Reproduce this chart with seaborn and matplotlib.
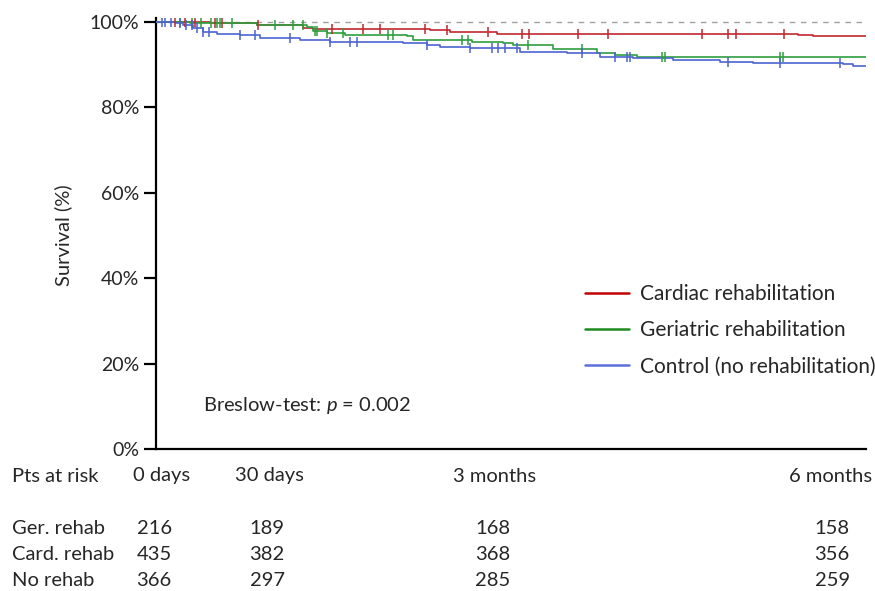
import numpy as np
import pandas as pd
import matplotlib
matplotlib.use("Agg")
import matplotlib.pyplot as plt
import matplotlib.transforms as mtransforms
from matplotlib.lines import Line2D
import seaborn as sns

# ---------------- data ----------------
groups = ["Cardiac rehabilitation", "Geriatric rehabilitation", "Control (no rehabilitation)"]

card_days = [0, 14.3, 26.8, 39.0, 41.7, 72.7, 78.1, 90.5, 154.5, 170.4, 174.4, 188.5]
card_surv = [100, 99.7, 99.3, 98.5, 98.3, 98.1, 97.7, 97.3, 97.1, 96.9, 96.6, 96.6]
card_cens = [5.0, 7.7, 10.4, 15.7, 17.5, 27.1, 46.7, 55.0, 59.5, 71.4, 77.3, 88.1,
             97.2, 99.0, 112.0, 120.0, 145.0, 151.9, 154.0, 166.7]

ger_days = [0, 9.0, 26.8, 40.1, 41.7, 45.4, 50.2, 66.6, 68.2, 83.9, 92.1, 94.8,
            105.4, 117.1, 121.9, 127.7, 188.5]
ger_surv = [100, 99.7, 99.3, 98.9, 97.9, 97.4, 97.0, 96.6, 95.8, 95.4, 95.0, 94.6,
            93.6, 92.8, 92.3, 91.7, 91.7]
ger_cens = [6.5, 9.5, 12.0, 14.5, 16.2, 17.0, 20.2, 31.6, 36.4, 39.0, 42.2, 42.7,
            45.4, 49.6, 61.6, 62.9, 81.2, 82.8, 98.8, 113.1, 134.3, 135.1, 165.7, 166.5]

ctrl_days = [0, 5.0, 7.2, 9.8, 12.5, 16.2, 22.3, 27.6, 38.2, 46.2, 65.6, 71.9, 75.4,
             83.4, 96.6, 109.1, 117.9, 126.6, 137.3, 149.7, 158.5, 182.4, 185.1, 188.5]
ctrl_surv = [100, 99.8, 99.3, 98.5, 97.7, 97.2, 97.0, 96.2, 95.8, 95.4, 95.0, 94.6, 94.2,
             93.8, 93.0, 92.7, 91.9, 91.5, 91.1, 90.7, 90.5, 90.1, 89.8, 89.8]
ctrl_cens = [1.5, 2.5, 4.0, 6.5, 8.0, 9.5, 11.0, 12.5, 14.0, 22.3, 26.3, 35.6, 46.2,
             51.5, 53.4, 71.9, 83.4, 89.2, 90.8, 92.7, 95.8, 113.1, 121.9, 125.0, 125.8,
             151.9, 165.7, 181.6]

risk_times = [0, 30, 90, 180]
risk_headers = ["0 days", "30 days", "3 months", "6 months"]
risk_rows = ["Ger. rehab", "Card. rehab", "No rehab"]
risk_ger = [216, 189, 168, 158]
risk_card = [435, 382, 368, 356]
risk_ctrl = [366, 297, 285, 259]

y_ticks = [0, 20, 40, 60, 80, 100]
x_ticks = [0, 30, 60, 90, 120, 150, 180]

colors = {"Cardiac rehabilitation": "#C0282D",
          "Geriatric rehabilitation": "#2E9E3E",
          "Control (no rehabilitation)": "#4D63D1"}
legend_colors = {"Cardiac rehabilitation": "#C00000",
                 "Geriatric rehabilitation": "#1E8C1E",
                 "Control (no rehabilitation)": "#5B70D8"}

# ---------------- frames ----------------
curves = pd.concat([
    pd.DataFrame({"day": card_days, "surv": card_surv, "group": groups[0]}),
    pd.DataFrame({"day": ger_days, "surv": ger_surv, "group": groups[1]}),
    pd.DataFrame({"day": ctrl_days, "surv": ctrl_surv, "group": groups[2]}),
], ignore_index=True)

def cens_frame(days, surv, cens, g):
    days = np.asarray(days); surv = np.asarray(surv)
    idx = np.searchsorted(days, cens, side="right") - 1
    return pd.DataFrame({"day": cens, "surv": surv[idx], "group": g})

cens = pd.concat([
    cens_frame(card_days, card_surv, card_cens, groups[0]),
    cens_frame(ger_days, ger_surv, ger_cens, groups[1]),
    cens_frame(ctrl_days, ctrl_surv, ctrl_cens, groups[2]),
], ignore_index=True)

# ---------------- plot ----------------
sns.set_theme(style="white")
plt.rcParams["font.family"] = ["Lato", "DejaVu Sans"]
plt.rcParams["mathtext.fontset"] = "custom"
plt.rcParams["mathtext.it"] = "Lato:italic"
plt.rcParams["mathtext.rm"] = "Lato"

FS = 14.5
W, H = 875, 591
fig = plt.figure(figsize=(W / 100, H / 100), dpi=100)
ax = fig.add_axes([156 / W, 1 - 449 / H, 710 / W, (449 - 17.7) / H])

ax.axhline(100, color="#A0A0A0", lw=1.0, ls=(0, (4, 4)), zorder=1)

for g in groups:
    sub = curves[curves.group == g]
    sns.lineplot(data=sub, x="day", y="surv", color=colors[g], lw=1.2,
                 drawstyle="steps-post", estimator=None, sort=False, ax=ax,
                 legend=False, zorder=3)
    csub = cens[cens.group == g]
    ax.plot(csub["day"], csub["surv"], ls="none", marker="|", ms=7.5, mew=1.1,
            color=colors[g], zorder=4)

ax.set_xlim(0, 188.5)
ax.set_ylim(0, 101)
ax.set_xticks(x_ticks)
ax.set_xticklabels([])
ax.set_yticks(y_ticks)
ax.set_yticklabels([f"{v}%" for v in y_ticks], fontsize=14)
ax.set_xlabel("")
ax.set_ylabel("")
for s in ["top", "right"]:
    ax.spines[s].set_visible(False)
for s in ["left", "bottom"]:
    ax.spines[s].set_linewidth(1.6)
    ax.spines[s].set_color("black")
ax.tick_params(axis="x", direction="inout", length=14, width=1.6, color="black")
ax.tick_params(axis="y", direction="out", length=9, width=1.6, color="black", pad=3,
               left=True)
ax.grid(False)

handles = [Line2D([], [], color=legend_colors[g], lw=1.8) for g in groups]
ax.legend(handles, groups, loc="upper left", bbox_to_anchor=(585 / W, 1 - 284 / H),
          bbox_transform=fig.transFigure, frameon=False, fontsize=15,
          handlelength=2.1, handletextpad=0.55, labelspacing=0.78,
          borderpad=0, borderaxespad=0)

fig.text(63 / W, 1 - 235 / H, "Survival (%)", rotation=90, ha="center", va="center",
         fontsize=FS)
fig.text(203 / W, 1 - 406 / H, "Breslow-test: $p$ = 0.002", ha="left", va="center",
         fontsize=FS)

# risk table
trans = mtransforms.blended_transform_factory(ax.transData, fig.transFigure)
fig.text(12 / W, 1 - 476 / H, "Pts at risk", ha="left", va="center", fontsize=FS)
head_offsets = [1.6, 0, 0, -1.0]
for t, lab, off in zip(risk_times, risk_headers, head_offsets):
    ax.text(t + off, 1 - 476 / H, lab, transform=trans, ha="center", va="center",
            fontsize=FS, clip_on=False)
row_y = [529, 555, 581]
for lab, vals, yy in zip(risk_rows, [risk_ger, risk_card, risk_ctrl], row_y):
    fig.text(12 / W, 1 - yy / H, lab, ha="left", va="center", fontsize=FS)
    for t, v in zip(risk_times, vals):
        ax.text(t - 0.5, 1 - yy / H, str(v), transform=trans, ha="center", va="center",
                fontsize=FS, clip_on=False)

fig.savefig("out.png", dpi=100)
